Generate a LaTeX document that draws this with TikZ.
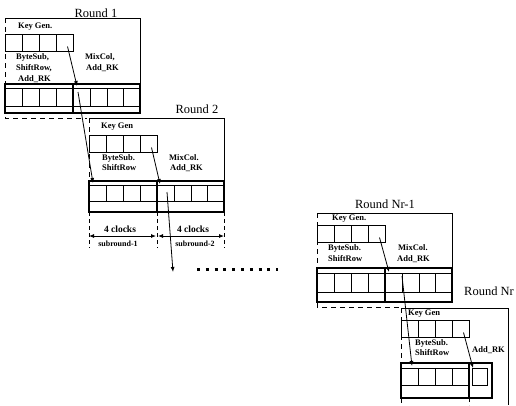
\documentclass[tikz,border=0pt]{standalone}
\usepackage{fontspec}
\setmainfont{Liberation Serif}
\usetikzlibrary{arrows.meta}
\tikzset{
  thn/.style={line width=0.5pt},
  frm/.style={line width=0.8pt},
  dfrm/.style={line width=0.8pt, dash pattern=on 5pt off 4pt},
  keycell/.style={draw, line width=0.9pt, minimum width=17pt, minimum height=17pt, inner sep=0pt, outer sep=0pt, anchor=north west},
  dpart/.style={draw, line width=1.5pt, inner sep=0pt, outer sep=0pt, anchor=north west},
  ttl/.style={font=\fontsize{12.5}{14}\selectfont, inner sep=0pt},
  lbl/.style={font=\bfseries\fontsize{8.5}{10}\selectfont, inner sep=0pt, anchor=west},
  clk/.style={font=\bfseries\fontsize{9.5}{11}\selectfont, inner sep=0pt},
  tlbl/.style={font=\bfseries\fontsize{8}{9}\selectfont, inner sep=0pt},
  arr/.style={line width=0.8pt, -{Latex[length=5pt,width=4pt]}},
  darr/.style={line width=0.8pt, {Latex[length=5pt,width=4pt]}-{Latex[length=5pt,width=4pt]}},
  dotline/.style={line width=3pt, dash pattern=on 3pt off 5.8pt},
  tickline/.style={line width=0.6pt, dash pattern=on 4pt off 3pt},
}
\newcommand{\KeyBlk}[3]{%
  \foreach \i in {1,...,4} \node[keycell] (#1k\i) at (#2+17*\i-17,#3) {};
}
% name, x0, top, height, cell top offset, cell bottom offset
\newcommand{\DataBlk}[6]{%
  \draw[thn] (#2,#3+#5) -- ++(135,0) (#2,#3+#6) -- ++(135,0);
  \foreach \i in {17,34,51,85,102,118} \draw[thn] (#2+\i,#3+#5) -- (#2+\i,#3+#6);
  \node[dpart, minimum width=68pt, minimum height=#4pt] (#1L) at (#2,#3) {};
  \node[dpart, minimum width=67pt, minimum height=#4pt] (#1R) at (#2+68,#3) {};
}
\begin{document}
\begin{tikzpicture}[x=1pt,y=-1pt]
\useasboundingbox (0,0) rectangle (516,405);
% ---------------- Round 1
\node[ttl] (t1) at (96,13) {Round 1};
\draw[frm] (5,18) -- (140,18) -- (140,84);
\draw[dfrm] (5,18) -- (5,118) -- (87,118);
\node[lbl] (kg1) at (18,27) {Key Gen.};
\KeyBlk{r1}{5}{34}
\node[lbl] (bs1) at (16,57) {ByteSub,};
\node[lbl] (sr1) at (16,68) {ShiftRow,};
\node[lbl] (ar1) at (18,79) {Add\_RK};
\node[lbl] (mc1) at (85,57) {MixCol,};
\node[lbl] (ak1) at (86,68) {Add\_RK};
\DataBlk{r1}{5}{84}{29}{4}{22}
% ---------------- Round 2
\node[ttl] (t2) at (197,109) {Round 2};
\draw[frm] (89,118) -- (224,118) -- (224,181);
\draw[dfrm] (89,118) -- (89,181);
\node[lbl] (kg2) at (101,127) {Key Gen};
\KeyBlk{r2}{89}{135}
\node[lbl] (bs2) at (102,158) {ByteSub.};
\node[lbl] (sr2) at (102,168) {ShiftRow};
\node[lbl] (mc2) at (169,158) {MixCol.};
\node[lbl] (ak2) at (170,168) {Add\_RK};
\DataBlk{r2}{89}{181}{31}{4}{20}
% timing
\draw[tickline] (r2L.south west) -- ++(0,36);
\draw[tickline] (r2L.south east) -- ++(0,36);
\draw[tickline] (r2R.south east) -- ++(0,36);
\coordinate (a1) at (89,236);
\coordinate (a2) at (156,236);
\coordinate (a3) at (158,236);
\coordinate (a4) at (224,236);
\draw[darr] (a1) -- (a2);
\draw[darr] (a3) -- (a4);
\node[clk] (c1) at (120,229) {4 clocks};
\node[clk] (c2) at (193,229) {4 clocks};
\node[tlbl] (s1) at (118,244) {subround-1};
\node[tlbl] (s2) at (195,244) {subround-2};
% ---------------- Round Nr-1
\node[ttl] (t3) at (385,204) {Round Nr-1};
\draw[frm] (317,213) -- (452,213) -- (452,268);
\draw[dfrm] (317,213) -- (317,307) -- (400,307);
\node[lbl] (kg3) at (332,218.5) {Key Gen.};
\KeyBlk{rm}{317}{225}
\node[lbl] (bs3) at (328,248) {ByteSub.};
\node[lbl] (sr3) at (328,259) {ShiftRow};
\node[lbl] (mc3) at (398,248) {MixCol.};
\node[lbl] (ak3) at (397,259) {Add\_RK};
\DataBlk{rm}{317}{268}{34}{5}{24}
% ---------------- Round Nr
\node[ttl] (t4) at (489,291) {Round Nr};
\draw[frm] (401,308) -- (508,308) -- (508,405);
\draw[dfrm] (401,308) -- (401,405);
\node[lbl] (kg4) at (408,313.5) {Key Gen};
\KeyBlk{rn}{401}{320}
\node[lbl] (bs4) at (415,343) {ByteSub.};
\node[lbl] (sr4) at (415,353) {ShiftRow};
\node[lbl] (ak4) at (472,350) {Add\_RK};
\draw[thn] (401,368) -- (469,368) (401,385) -- (469,385);
\foreach \i in {418,435,452} \draw[thn] (\i,368) -- (\i,385);
\draw[thn] (472,368) rectangle (487,385);
\node[dpart, minimum width=68pt, minimum height=35pt] (rnL) at (401,363) {};
\node[dpart, minimum width=23pt, minimum height=35pt] (rnR) at (469,363) {};
\draw[tickline] (rnL.south east) -- (469,405);
% ---------------- dotted continuation
\coordinate (dA) at (197,269);
\coordinate (dB) at (278,269);
\draw[dotline] (dA) -- (dB);
% ---------------- arrows
\draw[arr] ([xshift=3pt,yshift=-4pt]r1k4.center) -- ([xshift=4pt,yshift=-2pt]r1R.north west);
\draw[arr] ([xshift=5pt,yshift=-8pt]r1R.north west) -- ([xshift=4pt,yshift=-2pt]r2L.north west);
\draw[arr] ([xshift=3pt,yshift=-4pt]r2k4.center) -- ([xshift=3pt,yshift=-3pt]r2R.north west);
\coordinate (down2) at (173,272);
\draw[arr] ([xshift=10pt,yshift=-11pt]r2R.north west) -- (down2);
\draw[arr] ([xshift=3pt,yshift=-4pt]rmk4.center) -- ([xshift=4pt,yshift=-4pt]rmR.north west);
\draw[arr] ([xshift=17pt,yshift=-8pt]rmR.north west) -- ([xshift=11pt,yshift=-3pt]rnL.north west);
\draw[arr] ([xshift=3pt,yshift=-4pt]rnk4.center) -- ([xshift=4pt,yshift=-5pt]rnR.north west);
\end{tikzpicture}
\end{document}
